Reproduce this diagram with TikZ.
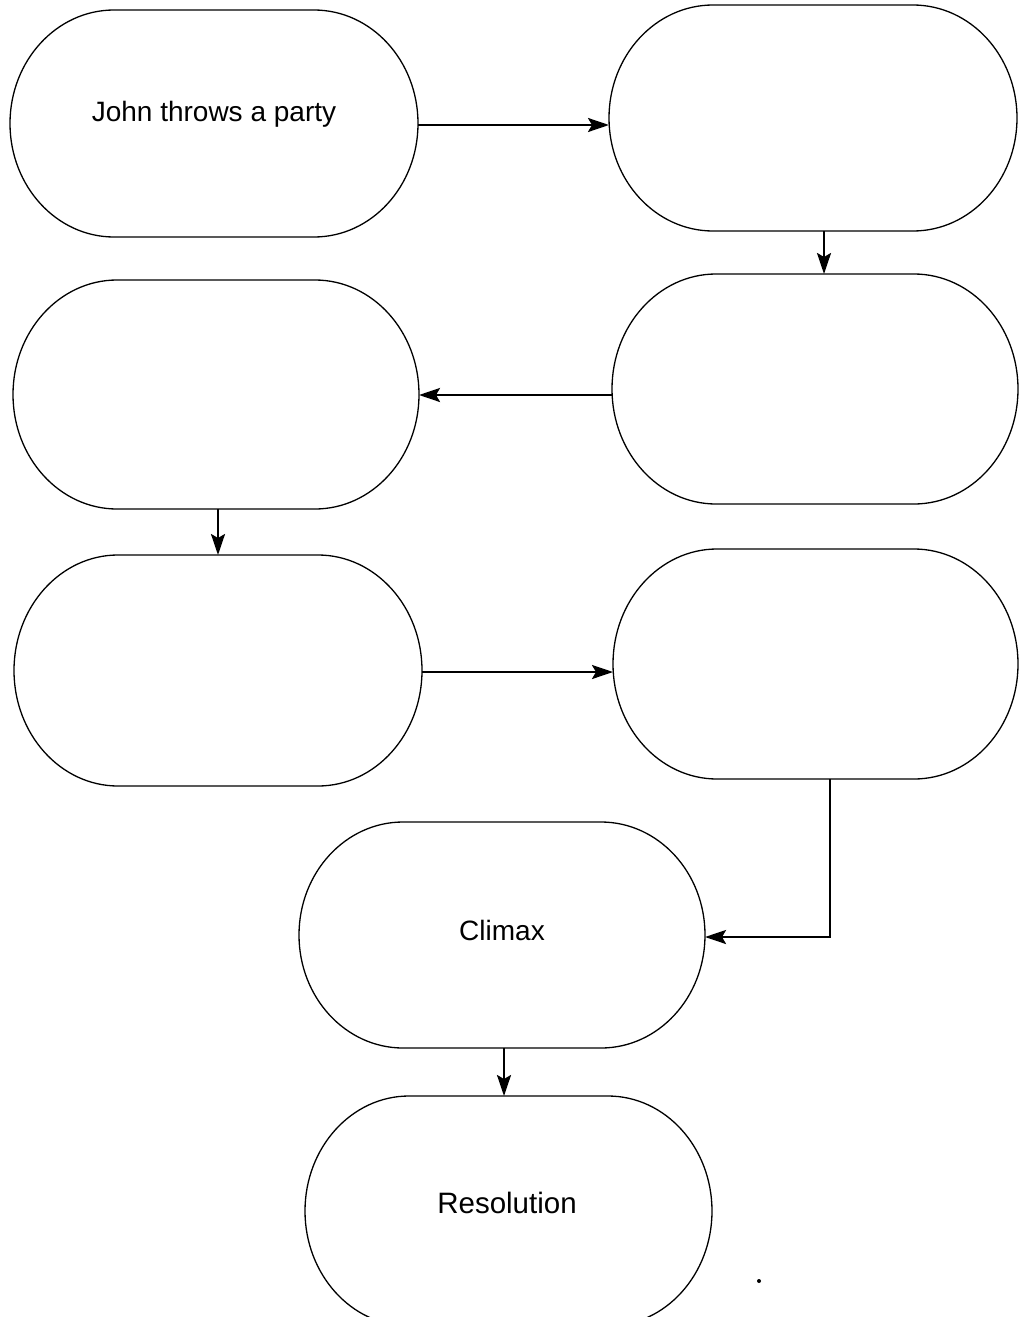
\documentclass[tikz,border=0pt]{standalone}
\usepackage{fontspec}
\setmainfont{Liberation Sans}
\usetikzlibrary{arrows.meta}
\newcommand\stadpath[3]{%
  \draw[outline] ([xshift=#2pt]#1.north west) -- ([xshift=-#2pt]#1.north east)
    arc[start angle=-90,end angle=90,x radius=#2,y radius=#3]
    -- ([xshift=#2pt]#1.south west)
    arc[start angle=90,end angle=270,x radius=#2,y radius=#3] -- cycle;}
\begin{document}
\begin{tikzpicture}[x=1pt,y=-1pt,
  stadium/.style={inner sep=0pt, outer sep=0pt, align=center},
  outline/.style={draw=black, line width=1.3pt},
  arr/.style={draw=black, line width=2.4pt, -{Stealth[length=21pt,width=14pt,inset=4pt]}},
  lbl/.style={font=\fontsize{28}{32}\selectfont}]
\useasboundingbox[fill=white] (0,0) rectangle (1018,1317);
\node[stadium, minimum width=408pt, minimum height=227pt] (b1) at (214,123.5) {};
\node[lbl, font=\fontsize{28}{32}\selectfont] (t1) at (214,114) {John throws a party};
\node[stadium, minimum width=408pt, minimum height=226pt] (b2) at (813,118) {};
\node[stadium, minimum width=406pt, minimum height=230pt] (b3) at (815,389) {};
\node[stadium, minimum width=406pt, minimum height=229pt] (b4) at (216,394.5) {};
\node[stadium, minimum width=408pt, minimum height=231pt] (b5) at (218,670.5) {};
\node[stadium, minimum width=405pt, minimum height=230pt] (b6) at (815.5,664) {};
\node[stadium, minimum width=406pt, minimum height=226pt] (cl) at (502,935) {};
\node[lbl] (tcl) at (502,930) {Climax};
\node[stadium, minimum width=407pt, minimum height=230pt] (res) at (508.5,1211) {};
\node[lbl, font=\fontsize{29.5}{33}\selectfont] (tres) at (507,1203) {Resolution};
\stadpath{b1}{104}{113.5}
\stadpath{b2}{104}{113}
\stadpath{b3}{104}{115}
\stadpath{b4}{104}{114.5}
\stadpath{b5}{104}{115.5}
\stadpath{b6}{104}{115}
\stadpath{cl}{104}{113}
\stadpath{res}{104}{115}
\draw[arr] ([yshift=-1.5pt]b1.east) -- ([yshift=-1.5pt]b1.east -| b2.west);
\draw[arr] ([xshift=11pt]b2.south) -- ([xshift=11pt]b2.south |- b3.north);
\draw[arr] ([yshift=-6pt]b3.west) -- ([yshift=-6pt]b3.west -| b4.east);
\draw[arr] ([xshift=2pt]b4.south) -- ([xshift=2pt]b4.south |- b5.north);
\draw[arr] ([yshift=-1.5pt]b5.east) -- ([yshift=-1.5pt]b5.east -| b6.west);
\draw[arr] ([xshift=14.5pt]b6.south) |- ([yshift=-2pt]cl.east);
\draw[arr] ([xshift=2pt]cl.south) -- ([xshift=2pt]cl.south |- res.north);
\fill[black] (759,1281) circle (2pt);
\end{tikzpicture}
\end{document}
